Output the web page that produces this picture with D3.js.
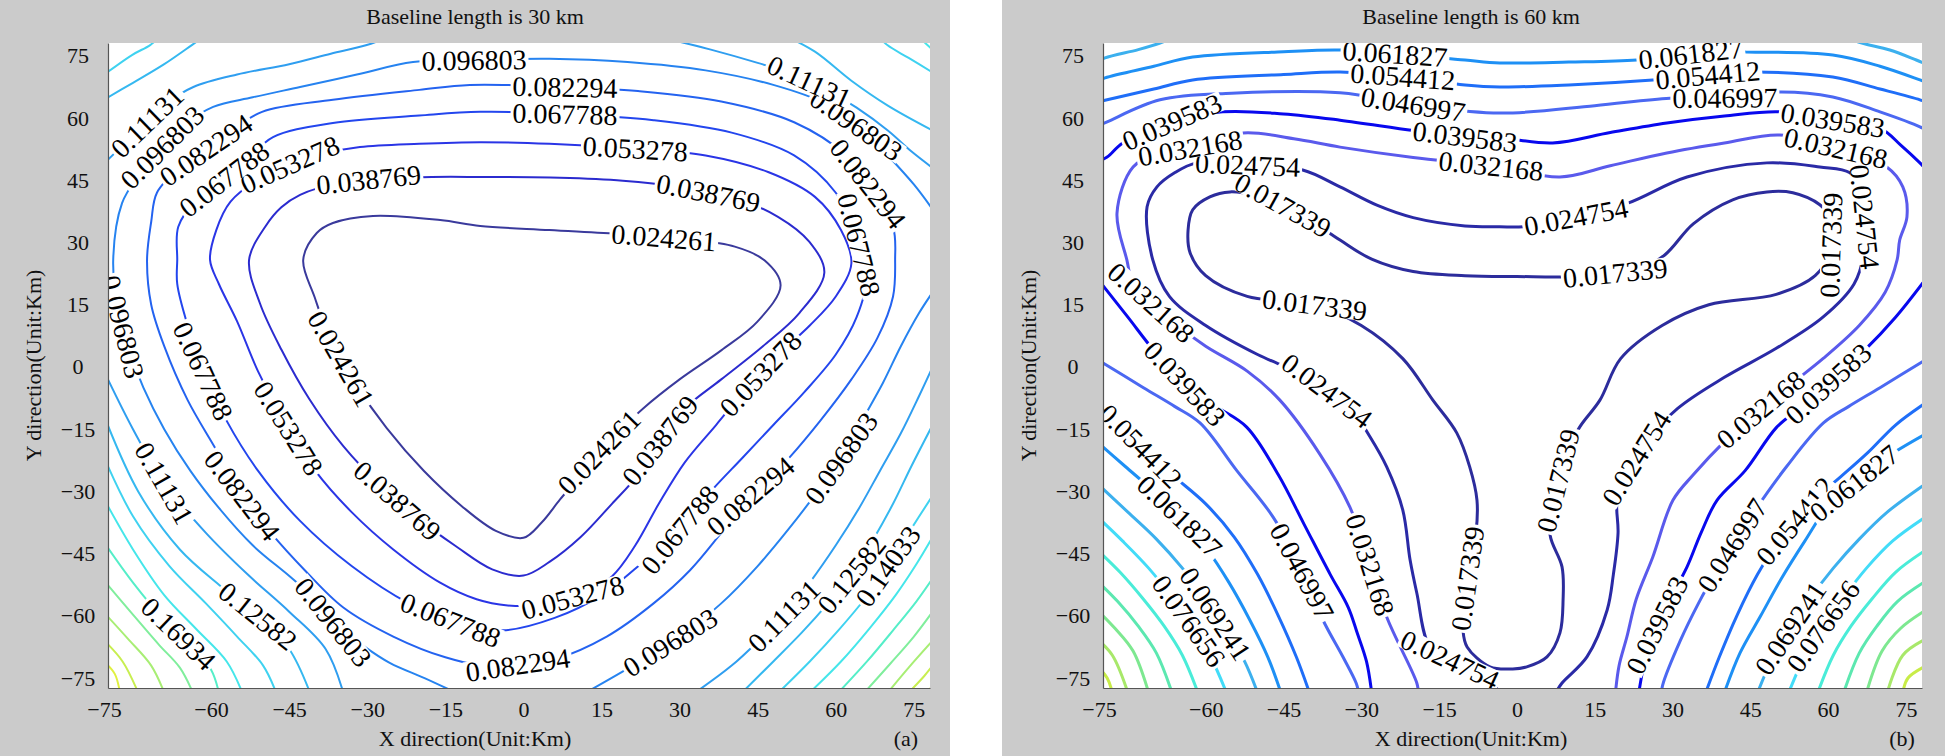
<!DOCTYPE html>
<html><head><meta charset="utf-8">
<script src="https://cdn.jsdelivr.net/npm/d3@7/dist/d3.min.js"></script>
<style>
body{margin:0;background:#fff;}
text{font-family:"Liberation Serif","Times New Roman",serif;}
</style></head><body>
<svg id="chart" width="1945" height="756"></svg>
<script>
const xTicks=[-75,-60,-45,-30,-15,0,15,30,45,60,75];
const yTicks=[-75,-60,-45,-30,-15,0,15,30,45,60,75];
const xDomain=[-79.8,78.1];
const yDomain=[-77.4,78.1];
const titleA="Baseline length is 30 km", titleB="Baseline length is 60 km";
const xTitle="X direction(Unit:Km)", yTitle="Y direction(Unit:Km)";

// ---------- panel (a): baseline 30 km ----------
const levelsA=[0.024261,0.038769,0.053278,0.067788,0.082294,0.096803,0.11131,0.12582,0.14033,0.15483,0.16934,0.18385,0.19836,0.21287,0.22738];
const colorsA=["#3a3a9c","#2b2bcf","#2a35e6","#2346ee","#2463f0","#2683f0","#2f9ef0","#35b8f0","#3fd2f0","#45e6ea","#55eec8","#80ee9c","#a8ee74","#c8ee50","#e0f040"];
const A1=[[[-28.9,36.4],[-16,35.4],[-8.3,34],[5,33],[19,32],[31,30.8],[40.6,29],[46.3,25.7],[49.4,19.7],[45,11],[38,4],[30,-3],[23,-10],[18,-16],[14.5,-20.5],[11,-26],[7,-32],[3.5,-37.5],[0,-41.2],[-5.3,-39.5],[-11.9,-33.5],[-19.1,-25.1],[-26.3,-14.7],[-32.2,-4.2],[-37,6.3],[-40.1,16.8],[-42.3,25.8],[-39.7,32.3],[-36.6,34.7],[-28.9,36.4]]];
const A2=[[[-42.9,41.5],[-35,44.5],[-29.7,45.2],[-17.6,45.8],[-8.3,45.8],[7,45.6],[19.1,44.9],[29.8,43.4],[40.6,40.7],[48.9,36.2],[54.9,30.2],[57.8,22.7],[53,13],[46,5],[38,-3],[31,-10],[26.2,-17.7],[22,-26],[17,-33],[11,-41],[5,-47],[0,-50.3],[-6,-48.8],[-13.1,-43.1],[-20.3,-36.5],[-27.4,-28.7],[-34.6,-19.1],[-41.1,-7.8],[-46.5,4.2],[-50.6,15.3],[-52.7,25.8],[-49.5,34],[-46.5,38.5],[-42.9,41.5]]];
const A3=[[[-56.3,39.8],[-50,46],[-44.6,49],[-38,51.5],[-31.4,53],[-20,53.8],[-8.3,54.2],[5,53.8],[21.5,52.6],[35,51],[47,47],[56,41],[61,33],[63,25],[60,17],[55,10],[49,3],[43,-5],[37,-14],[31,-23],[26,-33],[21.5,-43],[17,-50.5],[11,-55],[4,-57.3],[-3,-57.5],[-9,-56],[-16,-52],[-25,-44],[-33,-35],[-40,-25],[-46,-13],[-51,-1],[-55,11],[-58.5,20],[-60.2,25.8],[-59,33],[-56.3,39.8]]];
const A4=[[[-66.3,33.8],[-63,40],[-57.5,45.3],[-53,50],[-48.1,55.4],[-36.6,58.8],[-20,60.6],[-8.3,61.5],[8,61],[25,59.5],[40,56.5],[52,51],[60,42],[64,32],[66,22],[64,12],[60,3],[54,-6],[48,-14],[42,-22],[36,-30],[30,-39.2],[23,-47],[15,-55],[6,-60.5],[-4,-63.5],[-13,-61.5],[-22,-57],[-33,-48],[-43,-37],[-51,-25],[-57,-13],[-61.5,-1],[-64.5,10],[-66.5,20],[-66.5,25.8],[-66.3,33.8]]];
const A5=[[[-70.4,42],[-66,48],[-61,52.3],[-56,57],[-50.2,61.5],[-36.6,64.4],[-20,66.8],[-10.3,68],[8,67.5],[22,66.5],[38,64],[52,59],[62,51],[66.2,44.2],[71,33.8],[71.4,25.8],[71,17],[68,7],[63,-3],[57,-13],[51,-22],[46.5,-28],[43.6,-31.1],[38,-40],[32,-49],[25,-57],[16,-65],[6,-70.5],[-5,-72.5],[-15,-70],[-25,-65],[-34.6,-58],[-42,-49],[-48.5,-40],[-54,-31],[-59,-20],[-64.5,-8],[-69,5],[-71.5,15],[-72.3,25.8],[-71.5,35],[-70.4,42]]];
const A6=[[[78.6,38],[75,44],[70,51],[65,57.5],[58,63.5],[48,68],[35,71.5],[20,73.5],[5,74.3],[-9.5,74],[-21.2,73.5],[-32,70.5],[-42.9,67.5],[-52,65],[-59.6,62.7],[-65,58.5],[-69.4,53],[-74,46],[-77.1,39.5],[-78.8,25.8],[-78,15],[-76,5],[-73,-5],[-69,-15],[-64,-25],[-58.5,-34],[-52,-43],[-44.8,-50.6],[-40,-56],[-36.5,-61.5],[-31,-67],[-25.6,-71.4],[-19,-75],[-13,-78.5]],
 [[12,-78.5],[21,-72],[30,-65],[38,-57],[45,-48],[51,-39],[56.5,-30],[61,-22],[65,-13],[69,-4],[72.5,5],[76,13],[78.6,18]]];
const A7=[[[-81,48.5],[-76.5,54],[-72.3,59.1],[-68,64],[-63.4,67.5],[-55,70.5],[-45,73],[-37,75.5],[-30.1,77.6],[-27,79]],
 [[28,79],[36,76.5],[45,73.3],[52,70.5],[58,67],[64,62.5],[70,57],[74.5,52],[78.6,48]],
 [[-80.5,-1.2],[-75,-15],[-69,-28],[-61,-40],[-53,-50],[-45,-59],[-38,-68],[-34.6,-78.5]],
 [[33,-78.5],[40,-72],[46,-65],[50,-60],[55,-52],[60,-43],[64.5,-34],[68.5,-25],[72.5,-16],[76,-7],[78.6,0]]];
const A8=[[[-80.5,64.5],[-75,68.5],[-69,73],[-63.7,77.6],[-61,80]],
 [[50,80],[56,76],[63,69],[70,63],[78.6,57]],
 [[-80.5,-12],[-74,-30],[-66,-44],[-58,-53],[-51,-60],[-45,-68],[-41,-78.5]],
 [[42,-78.5],[48,-71],[53.5,-64],[58.5,-57],[63,-50],[67,-42],[71,-33],[74.5,-24],[78.6,-14]]];
const A9=[[[-80.5,70.5],[-75.2,75.2],[-71.7,77.6],[-70,79.5]],
 [[68,80],[69.9,77.6],[74,74.5],[78.6,71]],
 [[-80.5,-22],[-75,-36],[-68,-48],[-61,-57],[-55,-65],[-50,-72],[-47.5,-78.5]],
 [[49,-78.5],[55,-71],[60.5,-63.5],[65.5,-56],[70,-48],[74,-40],[78.6,-31]]];
const A10=[[[75.5,80],[78.6,76.5]],
 [[-80.5,-32],[-75,-44],[-69,-55],[-63,-63],[-57,-71],[-54,-78.5]],
 [[55,-78.5],[61,-71],[66.5,-63],[71.5,-55],[75.5,-47.5],[78.6,-41]]];
const A11=[[[-80.5,-42.4],[-75,-52],[-69,-61],[-64,-67],[-60,-73],[-58.5,-78.5]],
 [[60.5,-78.5],[66,-71],[71,-63.5],[75.5,-56.5],[78.6,-51]]];
const A12=[[[-80.5,-51.6],[-75.5,-59],[-70,-67],[-66,-72.5],[-63.5,-78.5]],
 [[65.5,-78.5],[70.5,-71.5],[75,-65],[78.6,-59]]];
const A13=[[[-80.5,-59.3],[-76,-65.5],[-71.5,-72],[-69,-78.5]],
 [[70,-78.5],[74,-72.5],[78.6,-66]]];
const A14=[[[-80.5,-66],[-77,-71],[-74,-78.5]],
 [[74,-78.5],[77,-74.5],[78.6,-72]]];
const A15=[[[-80.5,-71.1],[-78.5,-74],[-77.5,-78.5]],
 [[77.5,-78.5],[78.8,-76.5]]];
const linesA=[A1,A2,A3,A4,A5,A6,A7,A8,A9,A10,A11,A12,A13,A14,A15];
const labelsA=[[0,27,31.5],[0,14.5,-20.5],[0,-35.3,1.8],
 [1,-29.7,45],[1,35.6,42.3],[1,26.2,-17.7],[1,-24,-32],
 [2,-44.6,48],[2,21.5,52.6],[2,45,-1],[2,9.5,-55.8],[2,-45,-14.7],
 [3,-57.5,45.3],[3,8,61],[3,62.1,28.7],[3,30,-39.2],[3,-14,-61],[3,-61.5,-1],
 [4,-61,52.3],[4,8,67.5],[4,66.2,44.2],[4,43.6,-31.1],[4,-1,-72.4],[4,-54,-31],
 [5,-9.5,74],[5,64,58.5],[5,-69.4,53],[5,-76,10],[5,-36.5,-61.5],[5,28,-66],[5,61,-22],
 [6,-72.3,59.1],[6,55,69],[6,-69,-28],[6,50,-60],
 [7,-51,-60],[7,63,-50],[8,70,-48],[10,-66,-64]];

// ---------- panel (b): baseline 60 km ----------
const levelsB=[0.017339,0.024754,0.032168,0.039583,0.046997,0.054412,0.061827,0.069241,0.076656,0.08407,0.091485,0.0989,0.10631,0.11373,0.12114];
const colorsB=["#2c2c9c","#2a2aa6","#5a5aec","#0808ee","#4b68f2","#1f6ef8","#1e90f5","#3cb0ee","#42dcf8","#4aecd8","#5ce8b0","#7de890","#a8e86a","#c8ec48","#e4f040"];
const B1=[[[-55.3,42.2],[-59.2,41],[-62.5,37.9],[-63.4,33],[-63,27.5],[-60,22],[-52,17],[-39,15],[-30,10],[-22,2],[-16.2,-8],[-11.6,-15.9],[-9.1,-24.1],[-7.7,-32.1],[-7.9,-40],[-9.2,-48],[-10,-55],[-10.4,-63.4],[-9.6,-67.5],[-5.2,-72.3],[-0.8,-72.8],[1.9,-72.3],[5.8,-69.9],[8.3,-64.1],[8.9,-56.2],[8.7,-48.2],[6.4,-40.5],[7,-32],[9,-22],[12.1,-14.5],[16,-8],[20,2],[28,10],[37,15],[50,17.5],[57.5,22],[60.5,28],[60.7,35.4],[58.4,39.1],[53.2,42],[48.2,42.2],[41.6,40.3],[34,34.5],[28.5,27],[23,23.2],[12,21.8],[0,21.8],[-10,22],[-20,23],[-28,26],[-34.1,30.6],[-40,35.5],[-45.1,39],[-50,41.2],[-55.3,42.2]]];
const B2=[[[-3,-78.5],[-8.7,-73],[-13,-70.5],[-16.8,-67.5],[-19.3,-54.5],[-20.6,-46.5],[-22,-34.5],[-25.1,-24.1],[-28.3,-16.9],[-32,-10],[-36.6,-5.7],[-42,-1.5],[-50,3],[-60,10],[-67,17],[-70.2,25.8],[-71.3,38.6],[-69.4,43.4],[-66,46.8],[-61.7,49.2],[-51.9,48.7],[-41.3,47.5],[-34.1,43.4],[-27,39],[-20,36],[-10,34],[-3.3,33.8],[1.2,33.8],[11.4,36.2],[21.4,39.5],[32.8,45.8],[48.2,49.2],[58.4,48.2],[64.2,46.8],[66.6,42],[67.1,36.2],[67,28],[65,20],[59,12],[50,4.5],[40,-2.5],[31,-10],[25,-18],[21,-26],[19.3,-32.1],[19.5,-40],[18.6,-50],[17.4,-58.6],[13.5,-69.9],[8.7,-76.2],[7.5,-78.5]]];
const B3=[[[-19,-78.5],[-19.3,-76.2],[-25.1,-60.3],[-28.3,-47.7],[-32.2,-33.8],[-38,-21],[-45.7,-8],[-52,-1],[-60,5],[-66,10.5],[-70.5,15.5],[-74,20],[-75.2,25.8],[-77.1,37.1],[-74,48.2],[-69,51.5],[-63,52.8],[-52.8,56.4],[-43,55],[-34.1,53],[-20,50.5],[-5,48.5],[8.3,45.8],[18,48.5],[28.9,51.6],[40,54],[50.7,55.9],[61.5,52.8],[71.3,48.2],[74.4,43.4],[75.2,36.2],[73.8,30.6],[73.3,25.8],[71,18],[66,10],[59,2],[52,-5],[47,-10.2],[40,-18],[34,-26],[30.1,-32.1],[26.2,-45.8],[23,-56],[21.2,-65.1],[19.7,-72],[19,-78.5]]];
const B4=[[[-81,49.5],[-79,50.6],[-76,54],[-66.5,59.1],[-56.7,61.5],[-45,61],[-34.1,59.5],[-20,57],[-10,55.5],[-3.1,55.2],[6.9,54],[18,56.5],[28.9,58.8],[40,60.5],[50.7,61.5],[60.9,59.5],[70,57.6],[74,53.5],[77.7,49.2],[79,47.5]],
 [[-81,21.5],[-75,12],[-70,4],[-64,-4],[-58,-9.5],[-52.1,-14.5],[-46,-26],[-41,-38],[-36,-50],[-32.5,-58],[-30.8,-64.1],[-29,-71],[-28,-78.5]],
 [[79,21.5],[73,12],[67,4],[60,-4],[55,-9.5],[50.1,-14.5],[44,-25],[38.6,-32.1],[35.5,-40],[32.8,-48.2],[29.5,-56],[27,-62.2],[25,-69],[23.5,-78.5]]];
const B5=[[[-81,58],[-79,59.1],[-68.8,64.4],[-55,66],[-34.1,66.1],[-20,63.3],[-3.3,61.2],[15,63],[29.5,64.8],[40.1,64.9],[50.7,66.3],[60.9,65.1],[70,61.5],[77.7,57.9],[79,57]],
 [[-81,1.9],[-72,-5],[-66,-9.5],[-61.1,-13.5],[-54,-25],[-47,-36.2],[-41.4,-49.3],[-37.4,-61],[-33.5,-70],[-31,-76.2],[-30.5,-78.5]],
 [[79,1.9],[70,-5],[64,-9.5],[59.1,-13.5],[52,-24],[45,-36.2],[41.5,-43],[38.6,-48.9],[35,-57],[31.5,-66],[28.1,-76.7],[27.9,-78.5]]];
const B6=[[[-81,63.8],[-79,64.4],[-70,67],[-62.5,69.2],[-45,70.5],[-34.1,71.1],[-22,70],[-10,68],[-3.3,67.5],[10,68],[26.2,69.2],[36.8,70.4],[45.9,71.1],[60.9,69.9],[70,67],[77.7,64.4],[79,63.8]],
 [[-81,-8.5],[-76.5,-14],[-71.3,-20.6],[-66,-26.5],[-60,-33],[-54.5,-41],[-50,-50],[-46,-60],[-42.5,-70],[-40,-78.5]],
 [[79,-8.5],[73,-14],[67.7,-20.6],[62.4,-26.5],[56.4,-33],[51,-41],[46.4,-50],[42.4,-60],[39,-70],[36.4,-78.5]]];
const B7=[[[-81,68.8],[-79.4,69.7],[-70,72.5],[-62.5,74.7],[-45,76],[-34.1,76.4],[-23.5,75.5],[-10,74],[-3.3,73.3],[10,73.5],[23.1,74],[33.5,75.5],[44.3,75.9],[60.9,75.2],[70,72.5],[77.7,69.2],[79,68.6]],
 [[-81,-18],[-75.5,-24],[-70,-30],[-65,-36],[-60,-43.5],[-55.5,-52],[-51.5,-61],[-48,-70],[-45.5,-78.5]],
 [[79,-16],[71,-22],[65,-28],[60.3,-33],[55.5,-42],[51,-51],[47,-60],[43,-69],[40,-78.5]]];
const B8=[[[-81,73.5],[-79.4,74.5],[-73,76.5],[-68.8,78.1],[-66,79.5]],
 [[64,79.5],[65.7,78.4],[71.9,76.4],[77,74],[79,73]],
 [[-81,-28],[-75,-35],[-69.5,-41.5],[-64.5,-48.5],[-60,-56],[-56,-63.5],[-52.5,-71],[-50,-78.5]],
 [[79,-28],[71.4,-35],[66,-41.5],[61,-48.5],[56.4,-56],[52.4,-63.5],[49,-71],[46.4,-78.5]]];
const B9=[[[-81,-36],[-76,-42],[-71,-48.5],[-66.5,-55.5],[-62.5,-62.5],[-59,-70],[-56,-78.5]],
 [[79,-36],[72.4,-42],[67.4,-48.5],[63,-55.5],[59,-62.5],[55.4,-70],[52.4,-78.5]]];
const B10=[[[-81,-44],[-76.5,-49.5],[-72,-56],[-68,-62.5],[-64.5,-69.5],[-61.5,-78.5]],
 [[79,-44],[73,-49.5],[68.4,-56],[64.4,-62.5],[61,-69.5],[58,-78.5]]];
const B11=[[[-81,-51.5],[-77,-56.5],[-73,-62.5],[-69.5,-69],[-66.5,-78.5]],
 [[79,-51.5],[73.4,-56.5],[69.4,-62.5],[66,-69],[63,-78.5]]];
const B12=[[[-81,-58.5],[-77.5,-63],[-74,-68.5],[-71,-78.5]],
 [[79,-58.5],[74,-63],[70.4,-68.5],[67.4,-78.5]]];
const B13=[[[-81,-65.5],[-78,-69.5],[-75,-78.5]],
 [[79,-65.5],[74.4,-69.5],[71.4,-78.5]]];
const B14=[[[-81,-72],[-79,-75],[-78,-78.5]],
 [[79,-72],[75.4,-75],[74.4,-78.5]]];
const B15=[[[-81,-77.5],[-80.5,-78.5]],[[79,-77.5],[77.5,-78.5]]];
const linesB=[B1,B2,B3,B4,B5,B6,B7,B8,B9,B10,B11,B12,B13,B14,B15];
const labelsB=[[0,-45.1,39],[0,19,22.2],[0,59.4,29.4],[0,-39,15],[0,7.3,-27.2],[0,-10,-50.9],
 [1,-51.9,48.7],[1,11.4,36.2],[1,67.1,36.2],[1,-36.6,-5.7],[1,23,-22],[1,-12.5,-69.5],
 [2,-63,52.8],[2,-5,48.5],[2,61.5,52.8],[2,-70.5,15.5],[2,-28.3,-47.7],[2,47,-10.2],
 [3,-66.5,59.1],[3,-10,55.5],[3,60.9,59.5],[3,-64,-4],[3,27,-62.2],[3,60,-4],
 [4,-20,63.3],[4,40.1,64.9],[4,-41.4,-49.3],[4,41.5,-43],
 [5,-22,70],[5,36.8,70.4],[5,-72.5,-19],[5,53.5,-37],
 [6,-23.5,75.5],[6,33.5,75.5],[6,-65,-36],[6,65,-28],
 [7,-57.5,-59],[7,52.7,-63],[8,-63,-61],[8,59,-62.5]];

const svg=d3.select("#chart");
const defs=svg.append("defs");

function drawPanel(cfg, levels, colors, lines, labels, title, tag){
  const g=svg.append("g");
  g.append("rect").attr("x",cfg.bx).attr("y",0).attr("width",cfg.bw).attr("height",756).attr("fill","#cbcbcb");
  const x=d3.scaleLinear().domain(xDomain).range([cfg.l,cfg.r]);
  const y=d3.scaleLinear().domain(yDomain).range([cfg.b,cfg.t]);
  g.append("rect").attr("x",cfg.l).attr("y",cfg.t).attr("width",cfg.r-cfg.l).attr("height",cfg.b-cfg.t).attr("fill","#fff");
  const cid="clip"+cfg.id;
  defs.append("clipPath").attr("id",cid).append("rect")
    .attr("x",cfg.l).attr("y",cfg.t).attr("width",cfg.r-cfg.l).attr("height",cfg.b-cfg.t);
  const plot=g.append("g").attr("clip-path",`url(#${cid})`);
  const segsByLevel=[];
  lines.forEach((segs,i)=>{
    segsByLevel[i]=[];
    segs.forEach(pts=>{
      const f=pts[0],l=pts[pts.length-1];
      const closed=pts.length>3&&f[0]===l[0]&&f[1]===l[1];
      const P=closed?pts.slice(0,-1):pts;
      segsByLevel[i].push({P,closed});
      const gen=d3.line().x(d=>x(d[0])).y(d=>y(d[1]))
        .curve(closed?d3.curveCatmullRomClosed.alpha(0.5):d3.curveCatmullRom.alpha(0.5));
      plot.append("path").attr("d",gen(P)).attr("fill","none").attr("stroke",colors[i])
        .attr("stroke-width",cfg.lw).attr("stroke-linejoin","round").attr("stroke-linecap","round");
    });
  });
  const lab=plot.append("g");
  labels.forEach(([li,lx,ly])=>{
    const px=x(lx),py=y(ly);
    let best=null;
    segsByLevel[li].forEach(s=>{
      const n=s.P.length, m=s.closed?n:n-1;
      for(let k=0;k<m;k++){
        const a=s.P[k],b=s.P[(k+1)%n];
        const ax=x(a[0]),ay=y(a[1]),bx=x(b[0]),by=y(b[1]);
        const dx=bx-ax,dy=by-ay,L2=dx*dx+dy*dy||1;
        let t=((px-ax)*dx+(py-ay)*dy)/L2; t=Math.max(0,Math.min(1,t));
        const qx=ax+t*dx,qy=ay+t*dy,d=(qx-px)**2+(qy-py)**2;
        if(!best||d<best.d)best={d,qx,qy,ang:Math.atan2(dy,dx)*180/Math.PI};
      }
    });
    let ang=best.ang; if(ang>90)ang-=180; if(ang<-90)ang+=180;
    const lg=lab.append("g").attr("transform",`translate(${best.qx},${best.qy}) rotate(${ang})`);
    const r=lg.append("rect").attr("fill","#fff");
    const t=lg.append("text").attr("text-anchor","middle").attr("dy","0.35em")
      .attr("font-size",cfg.lfs).attr("fill","#000").text(String(levels[li]));
    const w=t.node().getComputedTextLength();
    r.attr("x",-w/2-2).attr("y",-cfg.lfs*0.36).attr("width",w+4).attr("height",cfg.lfs*0.72);
  });
  const xa=g.append("g").attr("transform",`translate(0,${cfg.b})`)
    .call(d3.axisBottom(x).tickValues(xTicks).tickSize(0).tickPadding(13).tickFormat(d3.format("d")));
  const ya=g.append("g").attr("transform",`translate(${cfg.l},0)`)
    .call(d3.axisLeft(y).tickValues(yTicks).tickSize(0).tickPadding(30).tickFormat(d3.format("d")));
  [xa,ya].forEach(a=>{a.select(".domain").attr("stroke","#555").attr("stroke-width",1.2);
    a.selectAll("text").attr("font-size",22).attr("fill","#111").attr("font-family","Liberation Serif");});
  ya.selectAll("text").attr("text-anchor","middle");
  xa.selectAll(".tick").filter(d=>d===-75).select("text").attr("x",cfg.l-x(-75)-4);
  g.append("text").attr("x",cfg.tc).attr("y",24).attr("text-anchor","middle").attr("font-size",22).attr("fill","#111").text(title);
  g.append("text").attr("x",cfg.tc).attr("y",746).attr("text-anchor","middle").attr("font-size",22).attr("fill","#111").text(xTitle);
  g.append("text").attr("transform",`translate(${cfg.yt},${(cfg.t+cfg.b)/2}) rotate(-90)`).attr("dy","0.35em")
    .attr("text-anchor","middle").attr("font-size",22).attr("fill","#111").text(yTitle);
  g.append("text").attr("x",cfg.tagx).attr("y",746).attr("text-anchor","middle").attr("font-size",22).attr("fill","#111").text(tag);
}
drawPanel({id:"a",bx:0,bw:950,l:108,r:930,t:43,b:688,lw:2,lfs:28,tc:475,yt:33,tagx:906},levelsA,colorsA,linesA,labelsA,titleA,"(a)");
drawPanel({id:"b",bx:1002,bw:943,l:1103,r:1922,t:43,b:688,lw:3,lfs:28,tc:1471,yt:1028,tagx:1902},levelsB,colorsB,linesB,labelsB,titleB,"(b)");
</script></body></html>
